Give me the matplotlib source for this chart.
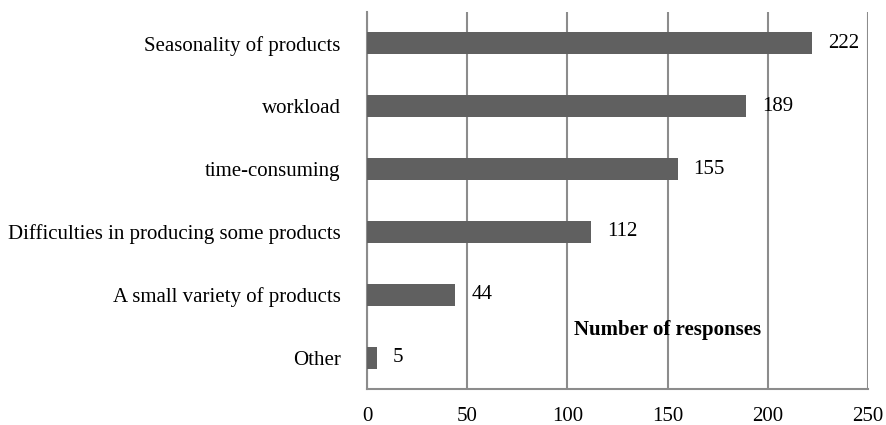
import numpy as np
import matplotlib.pyplot as plt

plt.rcParams['font.family'] = ['Liberation Serif', 'DejaVu Serif']

categories = ['Other', 'A small variety of products', 'Difficulties in producing some products',
              'time-consuming', 'workload', 'Seasonality of products']
responses = [5, 44, 112, 155, 189, 222]

fig = plt.figure(figsize=(8.86, 4.25), dpi=100)
ax = fig.add_axes([367 / 886, 1 - 389 / 425, 501 / 886, 377 / 425])

y = np.arange(len(categories))
ax.barh(y, responses, height=0.35, color='#606060', zorder=3)
for yi, v in zip(y, responses):
    ax.text(v + 8, yi, str(v), va='center', ha='left', fontsize=15, zorder=4)

ax.set_xlim(0, 250)
ax.set_ylim(-0.5, len(categories) - 0.5)
ax.set_xticks(np.arange(0, 251, 50))
ax.set_yticks(y)
ax.set_yticklabels(categories)
ax.tick_params(axis='both', length=0, labelsize=15)
ax.tick_params(axis='x', pad=13)
ax.tick_params(axis='y', pad=19)
ax.xaxis.grid(True, color='#8c8c8c', linewidth=1.5, zorder=0)
for s in ['top', 'right']:
    ax.spines[s].set_visible(False)
for s in ['left', 'bottom']:
    ax.spines[s].set_color('#8c8c8c')
    ax.spines[s].set_linewidth(1.5)

ax.text(0.6, 0.156, 'Number of responses', transform=ax.transAxes, ha='center', va='center',
        fontsize=15, fontweight='bold', zorder=5)

fig.savefig('out.png', dpi=100)
